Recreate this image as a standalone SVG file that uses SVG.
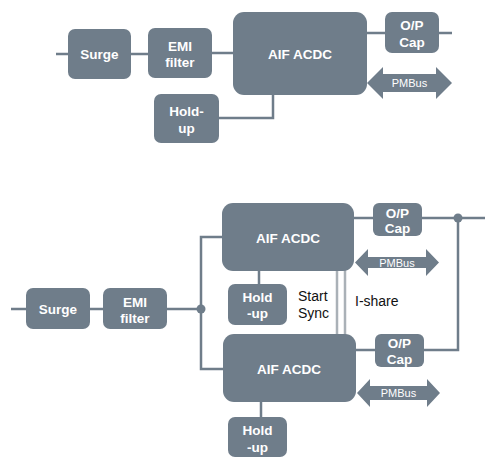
<svg xmlns="http://www.w3.org/2000/svg" width="500" height="468" viewBox="0 0 500 468">
<style>
.b{fill:#6f7d8a}
.t{font-family:"Liberation Sans",Arial,sans-serif;font-weight:bold;font-size:13.5px;fill:#fff;text-anchor:middle}
.p{font-family:"Liberation Sans",Arial,sans-serif;font-size:11px;fill:#fff;text-anchor:middle}
.k{font-family:"Liberation Sans",Arial,sans-serif;font-size:14px;fill:#111}
.c{fill:none;stroke:#6f7d8a;stroke-width:2.5}
.g{fill:none;stroke:#aab1b7;stroke-width:2.5}
</style>
<rect width="500" height="468" fill="#fff"/>
<g id="connectors">
<path class="c" d="M56,54H68M131,54H148M212,53H233M219,118H273V95M367,33H385M439,33H452"/>
<path class="c" d="M11,309H26M90,309H103M167,309H201M222,237H201V369H223M259,271V284M354,218H373M422,218H485M458,218V350H424M356,350H375M261,402V417"/>
<circle cx="201" cy="309" r="4.5" fill="#6f7d8a"/>
<circle cx="458" cy="218" r="4.5" fill="#6f7d8a"/>
<path class="g" d="M337,255V350M345,255V350"/>
</g>
<g id="surge1"><rect class="b" x="68" y="29" width="63" height="50" rx="7"/><text class="t" x="99.5" y="59">Surge</text></g>
<g id="emi1"><rect class="b" x="148" y="28" width="64" height="50" rx="7"/><text class="t" x="180" y="51">EMI</text><text class="t" x="180" y="67">filter</text></g>
<g id="aif1"><rect class="b" x="233" y="12" width="134" height="83" rx="11"/><text class="t" x="300" y="59">AIF ACDC</text></g>
<g id="hold1"><rect class="b" x="154" y="94" width="65" height="49" rx="7"/><text class="t" x="186.5" y="116">Hold-</text><text class="t" x="186.5" y="133">up</text></g>
<g id="cap1"><rect class="b" x="385" y="12" width="54" height="41" rx="7"/><text class="t" x="412" y="30">O/P</text><text class="t" x="412" y="47">Cap</text></g>
<g id="pmbus1"><polygon class="b" points="367,83 383,67 383,74 436,74 436,67 452,83 436,99 436,92 383,92 383,99"/><text class="p" x="409.5" y="87">PMBus</text></g>
<g id="surge2"><rect class="b" x="26" y="288" width="64" height="41" rx="7"/><text class="t" x="58" y="314">Surge</text></g>
<g id="emi2"><rect class="b" x="103" y="288" width="64" height="41" rx="7"/><text class="t" x="135" y="307">EMI</text><text class="t" x="135" y="323">filter</text></g>
<g id="aif2"><rect class="b" x="222" y="203" width="132" height="68" rx="11"/><text class="t" x="288" y="243">AIF ACDC</text></g>
<g id="hold2"><rect class="b" x="228" y="284" width="59" height="41" rx="7"/><text class="t" x="257.5" y="302">Hold</text><text class="t" x="257.5" y="318">-up</text></g>
<g id="cap2"><rect class="b" x="373" y="203" width="49" height="33" rx="6"/><text class="t" x="397.5" y="218">O/P</text><text class="t" x="397.5" y="233">Cap</text></g>
<g id="pmbus2"><polygon class="b" points="355,262.5 368,249 368,257 426,257 426,249 439,262.5 426,276 426,268 368,268 368,276"/><text class="p" x="397" y="266.5">PMBus</text></g>
<g id="aif3"><rect class="b" x="223" y="334" width="133" height="68" rx="11"/><text class="t" x="289" y="374">AIF ACDC</text></g>
<g id="cap3"><rect class="b" x="375" y="334" width="49" height="33" rx="6"/><text class="t" x="399.5" y="348">O/P</text><text class="t" x="399.5" y="364">Cap</text></g>
<g id="pmbus3"><polygon class="b" points="357,393 370,379 370,386 427,386 427,379 440,393 427,407 427,400 370,400 370,407"/><text class="p" x="398.5" y="397">PMBus</text></g>
<g id="hold3"><rect class="b" x="228" y="417" width="59" height="40" rx="7"/><text class="t" x="257.5" y="435">Hold</text><text class="t" x="257.5" y="452">-up</text></g>
<g id="labels"><text class="k" x="298" y="301">Start</text><text class="k" x="298" y="318">Sync</text><text class="k" x="355" y="306">I-share</text></g>
</svg>
